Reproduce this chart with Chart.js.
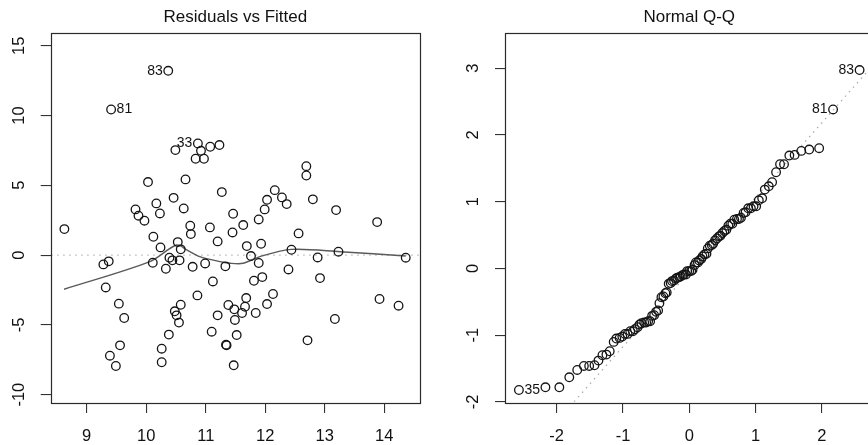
<!DOCTYPE html>
<html>
<head>
<meta charset="utf-8">
<script src="https://cdn.jsdelivr.net/npm/chart.js@4.4.1/dist/chart.umd.min.js"></script>
<style>
  html, body { margin: 0; padding: 0; background: #fff; overflow: hidden; width: 868px; height: 445px; }
  #left { position: absolute; left: 0; top: 0; }
  #right { position: absolute; left: 434px; top: 0; }
</style>
</head>
<body>
<canvas id="left" width="434" height="445"></canvas>
<canvas id="right" width="446" height="445"></canvas>
<script>
// residuals vs fitted
var fitted = [8.625, 10.37, 9.41, 10.49, 10.868, 10.92, 11.075, 11.23, 10.83, 10.97,
  10.03, 10.66, 11.27, 12.69, 12.69, 12.16, 12.28, 12.36, 12.03, 12.80,
  11.99, 13.19, 13.88, 9.82, 9.87, 9.97, 10.17, 10.23, 10.46, 10.63,
  10.74, 10.75, 11.07, 11.46, 11.45, 11.63, 11.89, 12.56, 10.12, 11.20,
  10.53, 10.24, 10.58, 11.69, 11.93, 12.44, 13.23, 14.36, 9.28, 9.37,
  10.11, 10.39, 10.44, 10.56, 10.33, 10.78, 10.99, 11.33, 11.76, 11.89,
  12.39, 12.88, 12.92, 9.32, 11.12, 11.81, 11.95, 10.86, 11.68, 12.13,
  9.54, 9.63, 10.58, 10.48, 10.51, 10.55, 11.38, 11.48, 11.66, 11.61,
  11.49, 11.20, 11.84, 12.03, 13.92, 14.24, 13.17, 10.38, 11.10, 11.52,
  9.56, 10.26, 11.34, 11.35, 12.71, 9.39, 9.49, 10.26, 11.47];
var resid = [1.86, 13.2, 10.43, 7.52, 8.0, 7.47, 7.76, 7.88, 6.9, 6.9,
  5.23, 5.42, 4.51, 6.37, 5.7, 4.65, 4.13, 3.65, 3.96, 3.99,
  3.27, 3.22, 2.36, 3.27, 2.82, 2.46, 3.70, 2.98, 4.10, 3.34,
  2.10, 1.50, 1.98, 2.96, 1.62, 2.15, 2.55, 1.55, 1.31, 0.98,
  0.93, 0.55, 0.41, 0.64, 0.81, 0.38, 0.24, -0.19, -0.67, -0.45,
  -0.55, -0.19, -0.38, -0.38, -0.98, -0.84, -0.60, -0.81, -0.07, -0.57,
  -1.03, -0.17, -1.65, -2.32, -1.89, -1.84, -1.58, -2.89, -3.08, -2.79,
  -3.48, -4.51, -3.56, -4.03, -4.32, -4.84, -3.58, -3.89, -3.70, -4.15,
  -4.65, -4.32, -4.15, -3.51, -3.15, -3.63, -4.58, -5.70, -5.49, -5.73,
  -6.47, -6.71, -6.42, -6.47, -6.11, -7.21, -7.95, -7.68, -7.90];
var smoothX = [8.62, 10.06, 10.51, 10.68, 10.90, 11.24, 11.41, 11.63, 11.91, 12.44, 13.26, 14.36];
var smoothY = [-2.45, -0.47, 0.72, 0.37, -0.11, -0.47, -0.59, -0.59, -0.11, 0.41, 0.24, -0.07];
var leftIdIndex = [1, 2, 4];
var leftIdText = ["83", "81", "33"];
var leftXTicks = [9, 10, 11, 12, 13, 14];
var leftYTicks = [-10, -5, 0, 5, 10, 15];

// normal q-q
var qqX = [-2.57, -2.17, -1.96, -1.81, -1.69, -1.59, -1.51, -1.43, -1.37, -1.31,
  -1.25, -1.20, -1.14, -1.10, -1.05, -1.01, -0.97, -0.93, -0.89, -0.85,
  -0.82, -0.78, -0.75, -0.72, -0.68, -0.65, -0.62, -0.59, -0.56, -0.53,
  -0.50, -0.47, -0.45, -0.42, -0.39, -0.36, -0.34, -0.31, -0.28, -0.26,
  -0.23, -0.20, -0.18, -0.15, -0.13, -0.10, -0.08, -0.05, -0.03, 0,
  0.03, 0.05, 0.08, 0.10, 0.13, 0.15, 0.18, 0.20, 0.23, 0.26,
  0.28, 0.31, 0.34, 0.36, 0.39, 0.42, 0.45, 0.47, 0.50, 0.53,
  0.56, 0.59, 0.62, 0.65, 0.68, 0.72, 0.75, 0.78, 0.82, 0.85,
  0.89, 0.93, 0.97, 1.01, 1.05, 1.10, 1.14, 1.20, 1.25, 1.31,
  1.37, 1.43, 1.51, 1.59, 1.69, 1.81, 1.96, 2.17, 2.57];
var qqY = [-1.82, -1.78, -1.78, -1.63, -1.52, -1.46, -1.46, -1.45, -1.38, -1.30,
  -1.29, -1.24, -1.10, -1.05, -1.04, -1.02, -0.98, -0.98, -0.94, -0.94,
  -0.91, -0.88, -0.84, -0.82, -0.81, -0.81, -0.79, -0.79, -0.71, -0.70,
  -0.65, -0.63, -0.52, -0.43, -0.42, -0.37, -0.36, -0.23, -0.22, -0.19,
  -0.18, -0.15, -0.14, -0.13, -0.12, -0.10, -0.09, -0.09, -0.04, -0.04,
  -0.04, -0.02, 0.05, 0.09, 0.09, 0.12, 0.14, 0.18, 0.21, 0.22,
  0.30, 0.34, 0.35, 0.37, 0.42, 0.45, 0.48, 0.49, 0.53, 0.56,
  0.58, 0.64, 0.67, 0.67, 0.73, 0.74, 0.74, 0.76, 0.83, 0.84,
  0.90, 0.90, 0.93, 0.93, 1.02, 1.05, 1.18, 1.23, 1.29, 1.44,
  1.56, 1.56, 1.69, 1.70, 1.76, 1.78, 1.80, 2.38, 2.97];
var qqLineX = [-3, 3];
var qqLineY = [-3.406, 3.296];
var rightIdIndex = [0, 97, 98];
var rightIdText = ["35", "81", "83"];
var rightXTicks = [-2, -1, 0, 1, 2];
var rightYTicks = [-2, -1, 0, 1, 2, 3];

const FONT = '"Liberation Sans", Arial, Helvetica, sans-serif';

function pts(xs, ys) {
  return xs.map(function (x, i) { return { x: x, y: ys[i] }; });
}

// R style frame: box, title over the plot region, upright x labels, rotated y labels, point ids
function rPlot(title, idIndex, idText, sides) {
  return {
    id: 'rPlot',
    afterDraw: function (chart) {
      const ctx = chart.ctx, a = chart.chartArea;
      const xs = chart.scales.x, ys = chart.scales.y;
      ctx.save();
      ctx.strokeStyle = '#2a2a2a';
      ctx.lineWidth = 1.2;
      ctx.strokeRect(Math.round(a.left) + 0.5, Math.round(a.top) + 0.5,
        Math.round(a.right - a.left), Math.round(a.bottom - a.top));
      ctx.fillStyle = '#111';
      ctx.textAlign = 'center';
      ctx.textBaseline = 'middle';
      ctx.font = '17px ' + FONT;
      ctx.fillText(title, (a.left + a.right) / 2, 17);
      ctx.font = '16.5px ' + FONT;
      xs.ticks.forEach(function (t) {
        ctx.fillText(String(t.value), xs.getPixelForValue(t.value), a.bottom + 33);
      });
      ys.ticks.forEach(function (t) {
        ctx.save();
        ctx.translate(a.left - 31.5, ys.getPixelForValue(t.value));
        ctx.rotate(-Math.PI / 2);
        ctx.fillText(String(t.value), 0, 0);
        ctx.restore();
      });
      ctx.font = '14px ' + FONT;
      const meta = chart.getDatasetMeta(0);
      idIndex.forEach(function (k, j) {
        const p = meta.data[k];
        const left = sides[j] === 'left';
        ctx.textAlign = left ? 'right' : 'left';
        ctx.fillText(idText[j], p.x + (left ? -5.5 : 5.5), p.y);
      });
      ctx.restore();
    }
  };
}

function axis(min, max, ticks, fit) {
  return {
    type: 'linear', min: min, max: max,
    afterFit: fit,
    afterBuildTicks: function (s) { s.ticks = ticks.map(function (v) { return { value: v }; }); },
    ticks: { display: false },
    grid: { display: true, drawOnChartArea: false, drawTicks: true, tickLength: 10, color: '#333', lineWidth: 1.1 },
    border: { display: false }
  };
}

function makeChart(id, c) {
  return new Chart(document.getElementById(id), {
    type: 'scatter',
    data: { datasets: c.datasets },
    options: {
      responsive: false,
      animation: false,
      devicePixelRatio: 1,
      layout: { padding: { top: 33, right: c.padRight, left: 0, bottom: 0 } },
      plugins: { legend: { display: false }, tooltip: { enabled: false } },
      scales: {
        x: axis(c.xMin, c.xMax, c.xTicks, function (s) { s.height = 42; }),
        y: axis(c.yMin, c.yMax, c.yTicks, function (s) { s.width = c.yWidth; })
      }
    },
    plugins: [rPlot(c.title, c.idIndex, c.idText, c.sides)]
  });
}

const circle = { showLine: false, pointStyle: 'circle', pointRadius: 4.3, borderWidth: 1.3,
  borderColor: '#151515', backgroundColor: 'rgba(0,0,0,0)' };

makeChart('left', {
  title: 'Residuals vs Fitted',
  xMin: 8.395, xMax: 14.60, yMin: -10.6, yMax: 15.91,
  xTicks: leftXTicks, yTicks: leftYTicks,
  yWidth: 50.7, padRight: 14,
  idIndex: leftIdIndex, idText: leftIdText, sides: ['left', 'right', 'left'],
  datasets: [
    Object.assign({ data: pts(fitted, resid) }, circle),
    { data: pts(smoothX, smoothY), showLine: true, pointRadius: 0, borderColor: '#5a5a5a', borderWidth: 1.4, tension: 0.3 },
    { data: pts([8, 15], [0, 0]), showLine: true, pointRadius: 0, borderColor: '#b5b5b5', borderWidth: 1.2, borderDash: [1.5, 4.5] }
  ]
});

makeChart('right', {
  title: 'Normal Q-Q',
  xMin: -2.78, xMax: 2.78, yMin: -2.015, yMax: 3.525,
  xTicks: rightXTicks, yTicks: rightYTicks,
  yWidth: 71, padRight: 6.5,
  idIndex: rightIdIndex, idText: rightIdText, sides: ['right', 'left', 'left'],
  datasets: [
    Object.assign({ data: pts(qqX, qqY) }, circle),
    { data: pts(qqLineX, qqLineY), showLine: true, pointRadius: 0, borderColor: '#a8a8a8', borderWidth: 1.2, borderDash: [1.5, 4.5] }
  ]
});
</script>
</body>
</html>
